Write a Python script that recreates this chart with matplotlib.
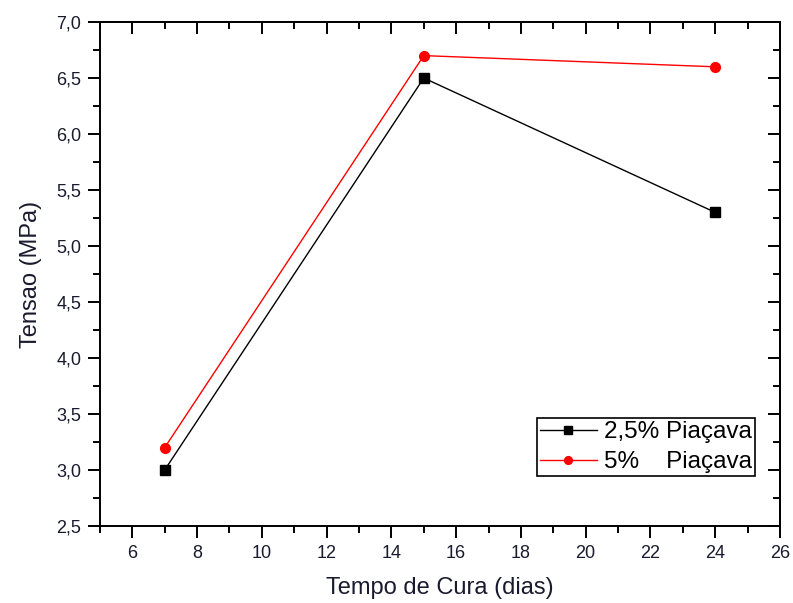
import matplotlib
matplotlib.use("Agg")
import matplotlib.pyplot as plt
from matplotlib.ticker import MultipleLocator, FuncFormatter

plt.rcParams['font.family'] = ['Liberation Sans', 'DejaVu Sans']

dias = [7, 15, 24]
piacava_25 = [3.0, 6.5, 5.3]
piacava_5 = [3.2, 6.7, 6.6]
labels = ["2,5% Piaçava", "5%    Piaçava"]

fig = plt.figure(figsize=(7.93, 6.03), dpi=100)
ax = fig.add_axes([0.126, 0.1277, 0.8576, 0.8358])

ax.plot(dias, piacava_25, color='black', lw=1.0, marker='s', ms=7, label=labels[0])
ax.plot(dias, piacava_5, color='red', lw=1.0, marker='o', ms=7, label=labels[1])

ax.set_xlim(5, 26)
ax.set_ylim(2.5, 7.0)
ax.xaxis.set_major_locator(MultipleLocator(2))
ax.xaxis.set_minor_locator(MultipleLocator(1))
ax.yaxis.set_major_locator(MultipleLocator(0.5))
ax.yaxis.set_minor_locator(MultipleLocator(0.25))
ax.xaxis.set_major_formatter(FuncFormatter(lambda v, p: f"{int(v)}" if v > 5.5 else ""))
ax.yaxis.set_major_formatter(FuncFormatter(lambda v, p: f"{v:.1f}".replace('.', ',')))

lw = 1.4
ax.tick_params(which='both', direction='out', top=False, right=False, labelsize=13, colors='black', width=lw)
ax.tick_params(which='major', length=8.5, pad=5)
ax.tick_params(which='minor', length=5)
for lab in ax.get_xticklabels() + ax.get_yticklabels():
    lab.set_color('#1a1a2e')

ax2 = ax.secondary_xaxis('top')
ax2.set_xticks(list(range(6, 27, 2)))
ax2.xaxis.set_minor_locator(MultipleLocator(1))
ax2.tick_params(which='both', direction='in', labeltop=False, width=lw)
ax2.tick_params(which='major', length=8.5)
ax2.tick_params(which='minor', length=5)
ax2.spines['top'].set_linewidth(lw)
ay2 = ax.secondary_yaxis('right')
ay2.yaxis.set_major_locator(MultipleLocator(0.5))
ay2.yaxis.set_minor_locator(MultipleLocator(0.25))
ay2.tick_params(which='both', direction='in', labelright=False, width=lw)
ay2.tick_params(which='major', length=8.5)
ay2.tick_params(which='minor', length=5)
ay2.spines['right'].set_linewidth(lw)

for s in ax.spines.values():
    s.set_linewidth(lw)

ax.set_xlabel("Tempo de Cura (dias)", fontsize=17, color='#1a1a2e', labelpad=11)
ax.set_ylabel("Tensao (MPa)", fontsize=17, color='#1a1a2e', labelpad=10)

leg = ax.legend(loc='lower right', bbox_to_anchor=(0.963, 0.099), fontsize=17.5,
                frameon=True, fancybox=False, edgecolor='black', framealpha=1,
                borderpad=0.12, handlelength=2.35, handletextpad=0.3, labelspacing=0.32,
                borderaxespad=0, markerscale=0.8)
leg.get_frame().set_linewidth(1.2)

fig.savefig("out.png", dpi=100)
